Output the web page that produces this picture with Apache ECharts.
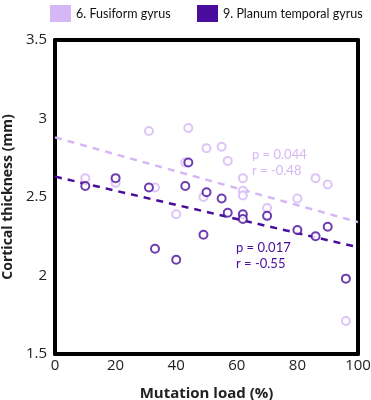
<!DOCTYPE html>
<html>
<head>
<meta charset="utf-8">
<script src="https://cdn.jsdelivr.net/npm/echarts@6/dist/echarts.min.js"></script>
<style>
  html,body{margin:0;padding:0;background:#fff;}
  #c1{width:371px;height:400px;}
</style>
</head>
<body>
<div id="c1"></div>
<script>
// mutation load (%) and cortical thickness (mm) per subject
var fusiformX = [10, 20, 31, 33, 40, 43, 44, 49, 50, 55, 57, 62, 62, 62, 70, 80, 86, 90, 96];
var fusiformY = [2.62, 2.59, 2.92, 2.56, 2.39, 2.72, 2.94, 2.50, 2.81, 2.82, 2.73, 2.62, 2.54, 2.51, 2.43, 2.49, 2.62, 2.58, 1.71];
var planumX = [10, 20, 31, 33, 40, 43, 44, 49, 50, 55, 57, 62, 62, 70, 80, 86, 90, 96];
var planumY = [2.57, 2.62, 2.56, 2.17, 2.10, 2.57, 2.72, 2.26, 2.53, 2.49, 2.40, 2.39, 2.36, 2.38, 2.29, 2.25, 2.31, 1.98];

// regression lines, end points at 0 and 100 %
var fitX = [0, 100];
var fusiformFit = [2.88, 2.34];
var planumFit = [2.63, 2.18];

var names = ['6. Fusiform gyrus', '9. Planum temporal gyrus'];
var xTicks = [0, 20, 40, 60, 80, 100];
var yTicks = [1.5, 2, 2.5, 3, 3.5];

var light = '#d5b7f5';
var dark = '#4a0c9c';
var font = '"Open Sans", "Noto Sans", sans-serif';
var narrow = 'Lato, "Open Sans", sans-serif';

function pairs(xs, ys){
  var out = [];
  for (var i = 0; i < xs.length; i++) {
    out.push([xs[i], ys[i]]);
  }
  return out;
}

var chart = echarts.init(document.getElementById('c1'));
var axisCommon = {
  axisLine: {show: true, onZero: false, lineStyle: {color: '#000', width: 4}},
  axisTick: {show: true, inside: false, length: 2, lineStyle: {color: '#000', width: 2}},
  splitLine: {show: false}
};
function legendItem(i, color, left){
  return {
    top: 0, left: left, itemWidth: 21, itemHeight: 17, itemGap: 5,
    textStyle: {color: '#111', fontSize: 12.5, fontFamily: narrow},
    data: [{name: names[i], icon: 'rect', itemStyle: {color: color, borderWidth: 0}}]
  };
}
var option = {
  animation: false,
  textStyle: {fontFamily: font},
  legend: [legendItem(0, light, 45), legendItem(1, dark, 192)],
  grid: {left: 55, right: 13, top: 40, bottom: 46, containLabel: false, outerBoundsMode: 'none'},
  xAxis: [
    Object.assign({
      type: 'value', min: 0, max: 100, interval: 20,
      name: 'Mutation load (%)', nameLocation: 'middle', nameGap: 32,
      nameTextStyle: {color: '#222', fontSize: 15, fontWeight: 'bold', fontFamily: font},
      axisLabel: {color: '#222', fontSize: 15, margin: 4,
        formatter: function(v){ return xTicks.indexOf(v) >= 0 ? String(v) : ''; }}
    }, axisCommon),
    Object.assign({
      type: 'value', min: 0, max: 100, interval: 20, position: 'top',
      axisLabel: {show: false}
    }, axisCommon)
  ],
  yAxis: [
    Object.assign({
      type: 'value', min: 1.5, max: 3.5, interval: 0.5,
      name: 'Cortical thickness (mm)', nameLocation: 'middle', nameGap: 38,
      nameTextStyle: {color: '#222', fontSize: 14, fontWeight: 'bold', fontFamily: font},
      axisLabel: {color: '#222', fontSize: 15, margin: 8,
        formatter: function(v){ return yTicks.indexOf(v) >= 0 ? String(v) : ''; }}
    }, axisCommon),
    Object.assign({
      type: 'value', min: 1.5, max: 3.5, interval: 0.5, position: 'right',
      axisLabel: {show: false}
    }, axisCommon)
  ],
  series: [
    {
      name: names[0], type: 'line', data: pairs(fitX, fusiformFit),
      symbol: 'none', silent: true,
      lineStyle: {color: light, width: 2.5, type: [7, 6]}, z: 2
    },
    {
      name: names[1], type: 'line', data: pairs(fitX, planumFit),
      symbol: 'none', silent: true,
      lineStyle: {color: dark, width: 2.5, type: [7, 6]}, z: 2
    },
    {
      name: names[0], type: 'scatter', data: pairs(fusiformX, fusiformY),
      symbol: 'emptyCircle', symbolSize: 8,
      itemStyle: {color: light, borderColor: light, borderWidth: 2}, z: 3
    },
    {
      name: names[1], type: 'scatter', data: pairs(planumX, planumY),
      symbol: 'emptyCircle', symbolSize: 8,
      itemStyle: {color: dark, borderColor: dark, borderWidth: 2.5}, z: 4
    }
  ],
  graphic: [
    {type: 'text', left: 252, top: 147,
      style: {text: 'p = 0.044\nr = -0.48', fill: light, font: '13px ' + narrow, lineHeight: 16}},
    {type: 'text', left: 236, top: 240,
      style: {text: 'p = 0.017\nr = -0.55', fill: dark, font: '13px ' + narrow, lineHeight: 16}}
  ]
};
chart.setOption(option);
</script>
</body>
</html>
